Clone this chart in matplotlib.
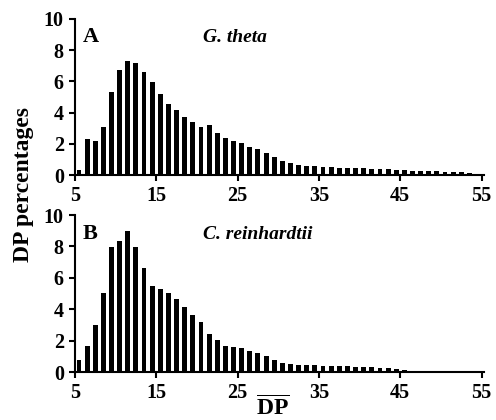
import numpy as np
import matplotlib
matplotlib.use("Agg")
import matplotlib.pyplot as plt

plt.rcParams["font.family"] = ["Liberation Serif", "DejaVu Serif"]
plt.rcParams["font.weight"] = "bold"
plt.rcParams["mathtext.fontset"] = "custom"
plt.rcParams["mathtext.rm"] = "Liberation Serif"
plt.rcParams["mathtext.bf"] = "Liberation Serif:bold"

# degree of polymerisation, bars sit between integer DP values
DP = np.arange(6, 56)

THETA = [
    0.36, 2.3, 2.2, 3.1, 5.3, 6.75, 7.3, 7.17, 6.57, 5.93,
    5.2, 4.56, 4.18, 3.75, 3.4, 3.08, 3.19, 2.72, 2.4, 2.2,
    2.08, 1.82, 1.65, 1.4, 1.15, 0.9, 0.8, 0.68, 0.6, 0.58,
    0.5, 0.5, 0.48, 0.46, 0.45, 0.43, 0.42, 0.4, 0.38, 0.35,
    0.3, 0.28, 0.27, 0.25, 0.24, 0.22, 0.2, 0.18, 0.15, 0.1,
]

REINHARDTII = [
    0.79, 1.66, 2.98, 5.04, 7.98, 8.32, 8.96, 7.98, 6.64, 5.49,
    5.3, 5.04, 4.64, 4.15, 3.66, 3.19, 2.4, 2.06, 1.68, 1.6,
    1.53, 1.34, 1.21, 1.04, 0.8, 0.6, 0.5, 0.48, 0.45, 0.43,
    0.42, 0.4, 0.38, 0.36, 0.34, 0.32, 0.3, 0.27, 0.24, 0.2,
    0.12, 0.1, 0.1, 0.09, 0.08, 0.08, 0.07, 0.06, 0.0, 0.0,
]

PANELS = [
    ("A", "G. theta", THETA),
    ("B", "C. reinhardtii", REINHARDTII),
]

XTICKS = [5, 15, 25, 35, 45, 55]
YTICKS = [0, 2, 4, 6, 8, 10]

fig = plt.figure(figsize=(4.96, 4.2), dpi=100)
axes = [
    fig.add_axes([0.151, 0.583, 0.825, 0.372]),
    fig.add_axes([0.151, 0.114, 0.825, 0.374]),
]

for ax, (letter, species, values) in zip(axes, PANELS):
    ax.bar(DP - 0.5, values, width=0.6, color="black")
    ax.set_xlim(5, 55.3)
    ax.set_ylim(0, 10)
    ax.set_xticks(XTICKS)
    ax.set_yticks(YTICKS)
    ax.spines["top"].set_visible(False)
    ax.spines["right"].set_visible(False)
    for s in ("left", "bottom"):
        ax.spines[s].set_linewidth(1.5)
    ax.tick_params(direction="out", length=4, width=1.5, pad=4, labelsize=14.5)
    for lab in ax.get_xticklabels() + ax.get_yticklabels():
        lab.set_fontweight("bold")
    ax.text(6.0, 8.5, letter, fontsize=16, fontweight="bold")
    ax.text(20.8, 8.5, species, fontsize=14, fontweight="bold", style="italic")

fig.text(0.048, 0.56, "DP percentages", rotation=90, ha="center", va="center",
         fontsize=17, fontweight="bold")
fig.text(0.55, 0.0, r"$\overline{\mathbf{DP}}$", ha="center", va="bottom",
         fontsize=17)

fig.savefig("out.png", dpi=100)
